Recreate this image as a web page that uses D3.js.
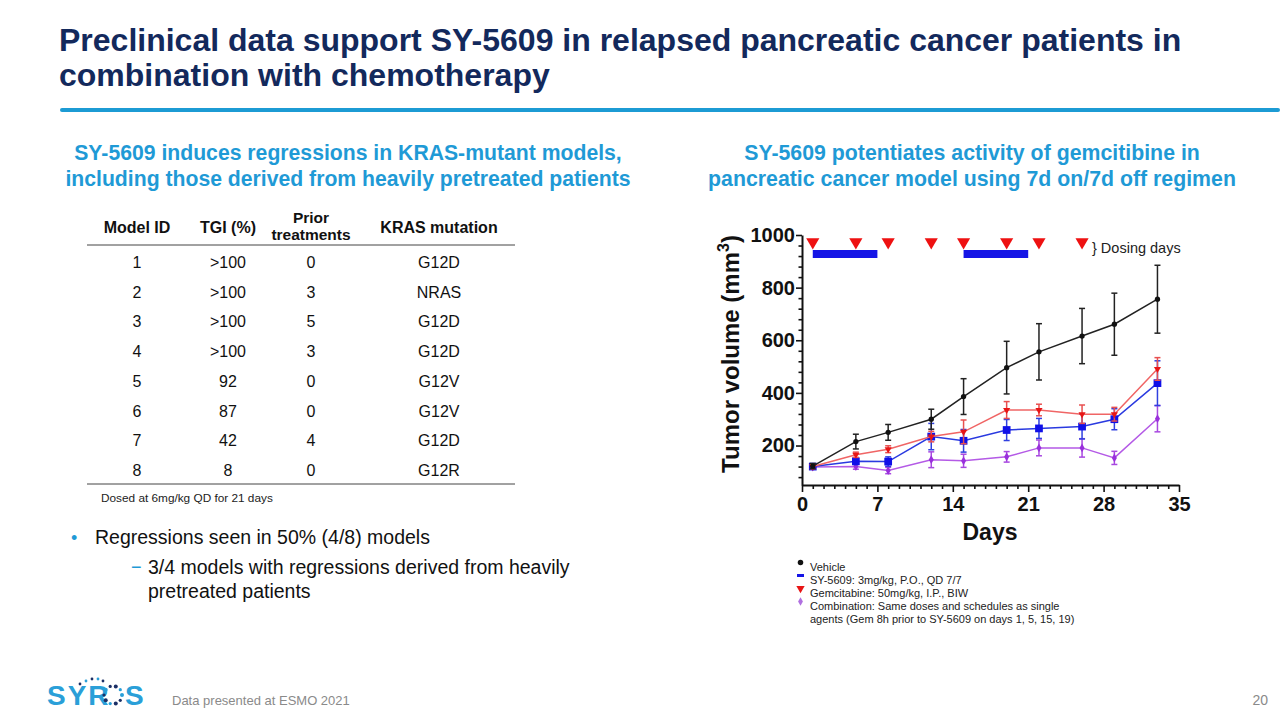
<!DOCTYPE html>
<html><head><meta charset="utf-8">
<script src="https://cdn.jsdelivr.net/npm/d3@7"></script>
<style>
html,body{margin:0;padding:0;background:#fff;}
svg{display:block;font-family:"Liberation Sans",Arial,sans-serif;}
</style></head>
<body>
<svg id="slide" width="1280" height="720"></svg>
<script>
// ---------------- DATA ----------------
const days = [1, 5, 8, 12, 15, 19, 22, 26, 29, 33];
const vehicle    = [122, 215, 250, 300, 386, 496, 556, 616, 661, 756];
const vehicleErr = [10, 28, 30, 38, 68, 100, 107, 105, 118, 129];
const gemcitabine    = [120, 165, 186, 234, 252, 335, 335, 319, 319, 491];
const gemcitabineErr = [8, 10, 13, 20, 45, 32, 22, 35, 26, 43];
const sy5609    = [120, 140, 139, 234, 218, 259, 265, 272, 300, 437];
const sy5609Err = [8, 12, 18, 50, 43, 40, 38, 47, 40, 85];
const combination    = [118, 120, 105, 146, 142, 157, 191, 191, 153, 302];
const combinationErr = [6, 10, 12, 30, 25, 20, 30, 35, 25, 50];
const gemDosingDays = [1, 5, 8, 12, 15, 19, 22, 26];
const syDosingPeriods = [[1, 7], [15, 21]];
const xTicks = [0, 7, 14, 21, 28, 35];
const yTicks = [200, 400, 600, 800, 1000];
const legendLabels = [
  "Vehicle",
  "SY-5609: 3mg/kg, P.O., QD 7/7",
  "Gemcitabine: 50mg/kg, I.P., BIW",
  "Combination: Same doses and schedules as single",
  "agents (Gem 8h prior to SY-5609 on days 1, 5, 15, 19)"
];
const tableHeaders = ["Model ID", "TGI (%)", "Prior|treatments", "KRAS mutation"];
const modelIds = ["1","2","3","4","5","6","7","8"];
const tgi = [">100", ">100", ">100", ">100", "92", "87", "42", "8"];
const priorTreatments = ["0","3","5","3","0","0","4","0"];
const krasMutation = ["G12D","NRAS","G12D","G12D","G12V","G12V","G12D","G12R"];

// ---------------- SLIDE ----------------
const svg = d3.select("#slide");
svg.append("rect").attr("width",1280).attr("height",720).attr("fill","#fff");

const navy = "#13295c", sky = "#1f9ad6";
const title = svg.append("text").attr("fill", navy).attr("font-weight","bold").attr("font-size",32);
title.append("tspan").attr("x",59).attr("y",51).text("Preclinical data support SY-5609 in relapsed pancreatic cancer patients in");
title.append("tspan").attr("x",59).attr("y",86).text("combination with chemotherapy");
svg.append("rect").attr("x",60).attr("y",108).attr("width",1220).attr("height",4).attr("rx",2).attr("fill","#1c9bd4");

function centered(x, lines, y0, dy, size, color, weight){
  const t = svg.append("text").attr("text-anchor","middle").attr("fill",color)
    .attr("font-size",size).attr("font-weight",weight||"normal");
  lines.forEach((l,i)=>t.append("tspan").attr("x",x).attr("y",y0+i*dy).text(l));
  return t;
}
centered(348, ["SY-5609 induces regressions in KRAS-mutant models,",
               "including those derived from heavily pretreated patients"], 160, 25.5, 21.2, sky, "bold");
centered(972, ["SY-5609 potentiates activity of gemcitibine in",
               "pancreatic cancer model using 7d on/7d off regimen"], 160, 25.5, 21.3, sky, "bold");

// ---------------- TABLE ----------------
const colX = [137, 228, 311, 439];
tableHeaders.forEach((h,i)=>{
  const parts = h.split("|");
  if(parts.length===1) centered(colX[i], parts, 233, 0, 16, "#111", "bold");
  else centered(colX[i], parts, 223, 17, 15.5, "#111", "bold");
});
svg.append("line").attr("x1",87).attr("x2",515).attr("y1",245).attr("y2",245).attr("stroke","#444").attr("stroke-width",1);
const rowY = d3.scaleLinear().domain([0,7]).range([268, 476]);
const cols = [modelIds, tgi, priorTreatments, krasMutation];
modelIds.forEach((_,r)=>{
  cols.forEach((c,i)=>{
    svg.append("text").attr("x",colX[i]).attr("y",rowY(r)).attr("text-anchor","middle")
      .attr("font-size",16).attr("fill","#111").text(c[r]);
  });
});
svg.append("line").attr("x1",87).attr("x2",515).attr("y1",484).attr("y2",484).attr("stroke","#444").attr("stroke-width",1);
svg.append("text").attr("x",101).attr("y",502).attr("font-size",11.8).attr("fill","#222").text("Dosed at 6mg/kg QD for 21 days");

// bullets
svg.append("text").attr("x",71).attr("y",544).attr("font-size",18).attr("fill",sky).text("•");
svg.append("text").attr("x",95).attr("y",544).attr("font-size",19.5).attr("fill","#111").text("Regressions seen in 50% (4/8) models");
svg.append("text").attr("x",131).attr("y",573).attr("font-size",18).attr("fill",sky).text("−");
const b2 = svg.append("text").attr("font-size",19.5).attr("fill","#111");
b2.append("tspan").attr("x",148).attr("y",574).text("3/4 models with regressions derived from heavily");
b2.append("tspan").attr("x",148).attr("y",598).text("pretreated patients");

// footer
const logo = svg.append("g");
logo.append("text").attr("x",47).attr("y",705).attr("font-size",28).attr("font-weight","bold")
  .attr("fill","#2a9fd8").attr("letter-spacing",2).text("SYR");
logo.append("text").attr("x",125).attr("y",705).attr("font-size",28).attr("font-weight","bold")
  .attr("fill","#2a9fd8").text("S");
const oc = [113, 695];
d3.range(10).forEach(i=>{
  const a = i/10*2*Math.PI;
  logo.append("circle").attr("cx",oc[0]+9*Math.cos(a)).attr("cy",oc[1]+9*Math.sin(a))
    .attr("r", i%2?1.6:2).attr("fill", i%3===0?"#2a9fd8":"#1b2f66");
});
[[80,684],[86,681],[92,679],[98,679],[103,681]].forEach((p,i)=>
  logo.append("circle").attr("cx",p[0]).attr("cy",p[1]).attr("r",1.4).attr("fill",i%2?"#2a9fd8":"#1b2f66"));
svg.append("text").attr("x",172).attr("y",705).attr("font-size",13).attr("fill","#8a8a8a").text("Data presented at ESMO 2021");
svg.append("text").attr("x",1268).attr("y",705).attr("text-anchor","end").attr("font-size",14).attr("fill","#8a8a8a").text("20");

// ---------------- CHART ----------------
const x = d3.scaleLinear().domain([0,35]).range([802,1179]);
const y = d3.scaleLinear().domain([50,1000]).range([485,235]);
const ch = svg.append("g");

// axes
const xAxis = ch.append("g").attr("transform","translate(0,485)")
  .call(d3.axisBottom(x).tickValues(xTicks).tickSize(7).tickPadding(5).tickSizeOuter(0));
const xMinor = ch.append("g").attr("transform","translate(0,485)")
  .call(d3.axisBottom(x).tickValues(d3.range(0,36).filter(d=>d%7)).tickSize(4).tickFormat("").tickSizeOuter(0));
xMinor.select(".domain").remove();
const yAxis = ch.append("g").attr("transform","translate(802,0)")
  .call(d3.axisLeft(y).tickValues(yTicks).tickFormat(d3.format("d")).tickSize(6).tickPadding(1).tickSizeOuter(0));
const yMinor = ch.append("g").attr("transform","translate(802,0)")
  .call(d3.axisLeft(y).tickValues(d3.range(80,1000,40).filter(d=>d%200)).tickSize(3.5).tickFormat("").tickSizeOuter(0));
yMinor.select(".domain").remove();
ch.selectAll(".domain").attr("stroke","#111").attr("stroke-width",2);
ch.selectAll(".tick line").attr("stroke","#111").attr("stroke-width",1.6);
ch.selectAll(".tick text").attr("font-family","Liberation Sans, Arial, sans-serif")
  .attr("font-size",20).attr("font-weight","bold").attr("fill","#111");

// axis titles
const yl = ch.append("text").attr("transform","translate(739,354) rotate(-90)")
  .attr("text-anchor","middle").attr("font-size",24).attr("font-weight","bold").attr("fill","#111");
yl.append("tspan").text("Tumor volume (mm");
yl.append("tspan").attr("font-size",16).attr("dy",-10).text("3");
yl.append("tspan").attr("dy",10).text(")");
ch.append("text").attr("x",990).attr("y",540).attr("text-anchor","middle").attr("font-size",23)
  .attr("font-weight","bold").attr("fill","#111").text("Days");

// dosing markers
const tri = d3.symbol().type(d3.symbolTriangle).size(75);
ch.selectAll(".dose").data(gemDosingDays).join("path")
  .attr("d",tri).attr("transform",d=>`translate(${x(d)},${242}) rotate(180)`).attr("fill","#ee1111");
ch.selectAll(".syb").data(syDosingPeriods).join("rect")
  .attr("x",d=>x(d[0])).attr("width",d=>x(d[1])-x(d[0])).attr("y",250).attr("height",8).attr("fill","#1515e6");
ch.append("text").attr("x",1092).attr("y",253).attr("font-size",14.5).attr("fill","#222").text("} Dosing days");

// series
const series = [
  {vals: vehicle, err: vehicleErr, line:"#222", err_c:"#222", mark:"#111", sym:d3.symbolCircle, size:22, rot:0},
  {vals: gemcitabine, err: gemcitabineErr, line:"#f06565", err_c:"#e85050", mark:"#e81515", sym:d3.symbolTriangle, size:22, rot:180},
  {vals: sy5609, err: sy5609Err, line:"#2a3ae0", err_c:"#3040e0", mark:"#1010e8", sym:d3.symbolSquare, size:60, rot:0},
  {vals: combination, err: combinationErr, line:"#b45ae6", err_c:"#a848e0", mark:"#9a30dc", sym:d3.symbolDiamond, size:22, rot:0}
];
const drawOrder = [3,2,1,0];
drawOrder.forEach(si=>{
  const s = series[si];
  const pts = days.map((d,i)=>({d, v:s.vals[i], e:s.err[i]}));
  const g = ch.append("g");
  g.append("path").datum(pts).attr("fill","none").attr("stroke",s.line).attr("stroke-width",1.5)
    .attr("d", d3.line().x(p=>x(p.d)).y(p=>y(p.v)));
  const eb = g.selectAll(".eb").data(pts).join("g");
  eb.append("line").attr("x1",p=>x(p.d)).attr("x2",p=>x(p.d))
    .attr("y1",p=>y(p.v+p.e)).attr("y2",p=>y(p.v-p.e)).attr("stroke",s.err_c).attr("stroke-width",1.5);
  [1,-1].forEach(sg=>eb.append("line").attr("x1",p=>x(p.d)-3).attr("x2",p=>x(p.d)+3)
    .attr("y1",p=>y(p.v+sg*p.e)).attr("y2",p=>y(p.v+sg*p.e)).attr("stroke",s.err_c).attr("stroke-width",1.5));
  g.selectAll(".mk").data(pts).join("path")
    .attr("d", d3.symbol().type(s.sym).size(s.size))
    .attr("transform",p=>`translate(${x(p.d)},${y(p.v)}) rotate(${s.rot})`).attr("fill",s.mark);
});

// legend
const lg = svg.append("g");
const legY = [567, 580, 593, 606];
const legSyms = [
  {sym:d3.symbolCircle, size:24, c:"#111", rot:0, rect:false},
  {sym:null, c:"#1515e6", rect:true},
  {sym:d3.symbolTriangle, size:30, c:"#e81515", rot:180},
  {sym:d3.symbolDiamond, size:20, c:"#b070e0", rot:0}
];
legSyms.forEach((s,i)=>{
  if(s.rect) lg.append("rect").attr("x",797).attr("y",legY[i]-6).attr("width",7).attr("height",3).attr("fill",s.c);
  else lg.append("path").attr("d",d3.symbol().type(s.sym).size(s.size))
    .attr("transform",`translate(800.5,${legY[i]-4.5}) rotate(${s.rot})`).attr("fill",s.c);
});
legendLabels.forEach((l,i)=>{
  lg.append("text").attr("x",810).attr("y",571+i*13).attr("font-size",11).attr("fill","#222").text(l);
});
</script>
</body></html>
